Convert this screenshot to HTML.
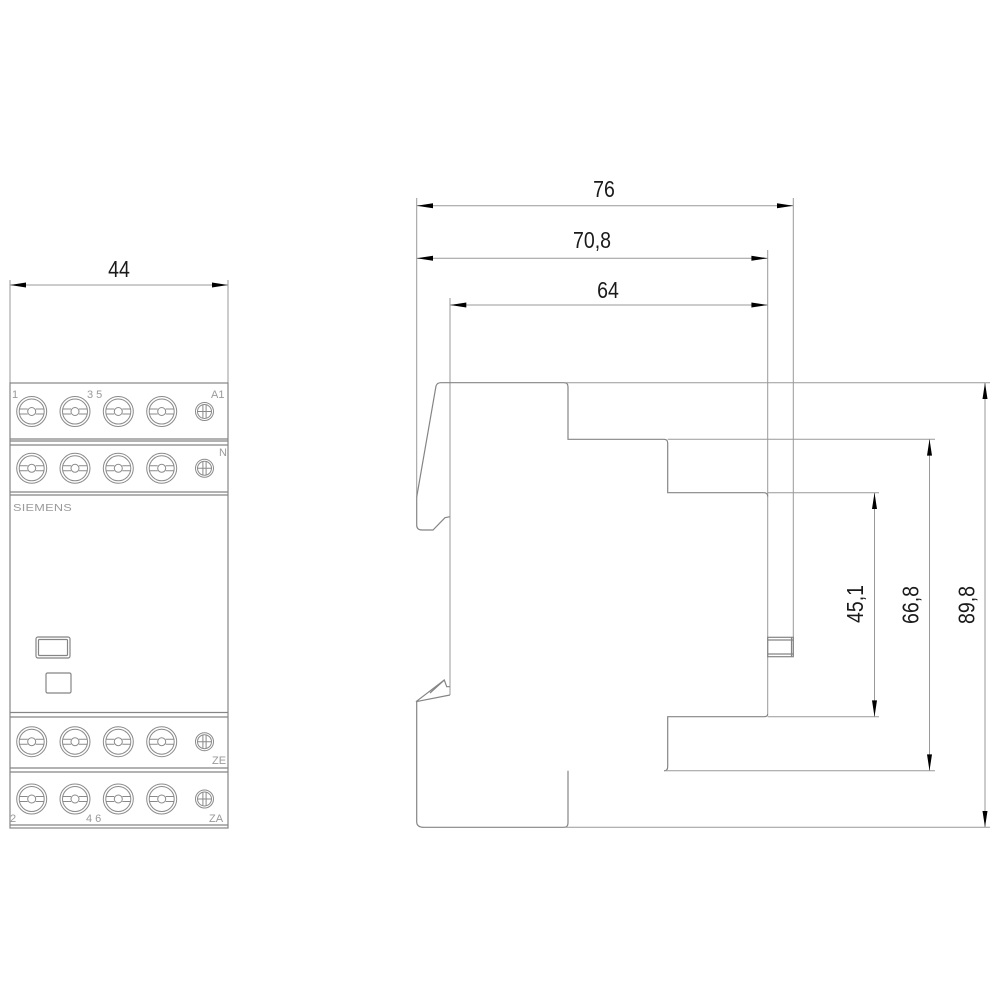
<!DOCTYPE html>
<html>
<head>
<meta charset="utf-8">
<style>
html,body{margin:0;padding:0;background:#fff;}
svg{display:block;}
.o{fill:none;stroke:#858585;stroke-width:1.2;}
.d{fill:none;stroke:#999;stroke-width:1;}
.a{fill:#000;stroke:none;}
.t{font-family:"Liberation Sans",sans-serif;font-size:23px;fill:#1a1a1a;}
.l{font-family:"Liberation Sans",sans-serif;font-size:11px;fill:#9a9a9a;}
</style>
</head>
<body>
<svg width="1000" height="1000" viewBox="0 0 1000 1000" xmlns="http://www.w3.org/2000/svg">
<defs>
  <g id="sb">
    <circle r="15" fill="none" stroke="#8a8a8a" stroke-width="1"/>
    <circle r="12.5" fill="none" stroke="#8a8a8a" stroke-width="1"/>
    <path d="M-12.3,-2.5H-4M4,-2.5H12.3M-12.3,2.5H-4M4,2.5H12.3" fill="none" stroke="#8a8a8a" stroke-width="1"/>
    <circle r="4" fill="none" stroke="#8a8a8a" stroke-width="1"/>
  </g>
  <g id="ss">
    <circle r="9" fill="none" stroke="#8a8a8a" stroke-width="1"/>
    <circle r="7" fill="none" stroke="#8a8a8a" stroke-width="1"/>
    <path d="M-1.6,-7V7M1.6,-7V7M-7,0H7" fill="none" stroke="#8a8a8a" stroke-width="1"/>
  </g>
</defs>

<!-- ============ FRONT VIEW ============ -->
<!-- dim 44 -->
<line class="d" x1="10" y1="280" x2="10" y2="383"/>
<line class="d" x1="228" y1="280" x2="228" y2="383"/>
<line class="d" x1="10" y1="285" x2="228" y2="285"/>
<polygon class="a" points="10,285 26,282.5 26,287.5"/>
<polygon class="a" points="228,285 212,282.5 212,287.5"/>
<text class="t" transform="translate(119,277) scale(0.85,1)" text-anchor="middle">44</text>

<!-- body -->
<rect class="o" x="10" y="383" width="218" height="445"/>
<line class="o" x1="10" y1="439" x2="228" y2="439"/>
<line class="o" x1="10" y1="441" x2="228" y2="441"/>
<line class="o" x1="10" y1="445" x2="228" y2="445"/>
<line class="o" x1="10" y1="492" x2="228" y2="492"/>
<line class="o" x1="10" y1="495" x2="228" y2="495"/>
<line class="o" x1="10" y1="712.5" x2="228" y2="712.5"/>
<line class="o" x1="10" y1="717" x2="228" y2="717"/>
<line class="o" x1="10" y1="768" x2="228" y2="768"/>
<line class="o" x1="10" y1="772" x2="228" y2="772"/>
<line class="o" x1="10" y1="825" x2="228" y2="825"/>

<!-- terminals -->
<use href="#sb" x="31.7" y="411.5"/><use href="#sb" x="75" y="411.5"/><use href="#sb" x="118.3" y="411.5"/><use href="#sb" x="161.7" y="411.5"/><use href="#ss" x="204.5" y="411.5"/>
<use href="#sb" x="31.7" y="468.3"/><use href="#sb" x="75" y="468.3"/><use href="#sb" x="118.3" y="468.3"/><use href="#sb" x="161.7" y="468.3"/><use href="#ss" x="204.5" y="468.3"/>
<use href="#sb" x="31.7" y="741.7"/><use href="#sb" x="75" y="741.7"/><use href="#sb" x="118.3" y="741.7"/><use href="#sb" x="161.7" y="741.7"/><use href="#ss" x="204.5" y="741.7"/>
<use href="#sb" x="31.7" y="799"/><use href="#sb" x="75" y="799"/><use href="#sb" x="118.3" y="799"/><use href="#sb" x="161.7" y="799"/><use href="#ss" x="204.5" y="799"/>

<!-- labels -->
<text class="l" x="12" y="398">1</text>
<text class="l" x="87" y="398">3 5</text>
<text class="l" x="211" y="398">A1</text>
<text class="l" x="219" y="456">N</text>
<text class="l" x="212" y="764">ZE</text>
<text class="l" x="10" y="822">2</text>
<text class="l" x="86" y="822">4 6</text>
<text class="l" x="209" y="822">ZA</text>
<text class="l" x="13" y="511" style="font-size:10px;letter-spacing:0.2px" textLength="59" lengthAdjust="spacingAndGlyphs">SIEMENS</text>

<!-- button & window -->
<rect class="o" x="36" y="637" width="34" height="21" rx="2" stroke-width="1"/>
<rect class="o" x="38.5" y="639.5" width="29" height="16" rx="1" stroke-width="1"/>
<rect class="o" x="46" y="673" width="25" height="20" rx="1.5" stroke-width="1"/>

<!-- ============ SIDE VIEW ============ -->
<!-- top dims -->
<line class="d" x1="416.7" y1="198" x2="416.7" y2="497"/>
<line class="d" x1="793.3" y1="198" x2="793.3" y2="656"/>
<line class="d" x1="767.7" y1="250" x2="767.7" y2="714"/>
<line class="d" x1="450" y1="298" x2="450" y2="695"/>

<line class="d" x1="416.7" y1="205.7" x2="793.3" y2="205.7"/>
<polygon class="a" points="416.7,205.7 433,203.2 433,208.2"/>
<polygon class="a" points="793.3,205.7 777,203.2 777,208.2"/>
<text class="t" transform="translate(604,197) scale(0.85,1)" text-anchor="middle">76</text>

<line class="d" x1="416.7" y1="258.3" x2="767.7" y2="258.3"/>
<polygon class="a" points="416.7,258.3 433,255.8 433,260.8"/>
<polygon class="a" points="767.7,258.3 751.4,255.8 751.4,260.8"/>
<text class="t" transform="translate(592,248) scale(0.85,1)" text-anchor="middle">70,8</text>

<line class="d" x1="450" y1="305" x2="767.7" y2="305"/>
<polygon class="a" points="450,305 466.3,302.5 466.3,307.5"/>
<polygon class="a" points="767.7,305 751.4,302.5 751.4,307.5"/>
<text class="t" transform="translate(608,298) scale(0.85,1)" text-anchor="middle">64</text>

<!-- body outline -->
<path class="o" d="M416.7,497 L436,386 Q437,382.7 441,382.7 L564,382.7 Q568,382.7 568,386.7 L568,439.3 L664,439.3 Q667.7,439.3 667.7,443 L667.7,492.7 L764,492.7 Q767.7,492.7 767.7,496.5"/>
<path class="o" d="M416.7,497 L416.7,525 Q416.7,530 422,530 L433,530 L445,517.7 L450,516.7"/>
<path class="o" d="M450,686.7 L446.7,686.7 L444.3,680 L416,701.7 L450,695"/>
<path class="o" d="M430,693 L444.3,680" stroke-width="0.8"/>
<path class="o" d="M416.7,701.7 L416.7,821.7 Q416.7,827.3 424,827.3 L564,827.3 Q568,827.3 568,823 L568,770.7"/>
<path class="o" d="M767.7,714 Q767.7,716.7 764,716.7 L667.7,716.7 L667.7,766.7 Q667.7,770.7 664,770.7"/>

<!-- connector pin -->
<rect class="o" x="767.7" y="637.3" width="25.6" height="19.4" stroke-width="1"/>
<line class="o" x1="767.7" y1="640" x2="793.3" y2="640" stroke-width="1"/>
<line class="o" x1="767.7" y1="654" x2="793.3" y2="654" stroke-width="1"/>
<line class="o" x1="791.5" y1="637.3" x2="791.5" y2="656.7" stroke-width="1"/>

<!-- horizontal extension lines -->
<line class="d" x1="564" y1="382.7" x2="990" y2="382.7"/>
<line class="d" x1="667.7" y1="439.3" x2="935" y2="439.3"/>
<line class="d" x1="767.7" y1="492.7" x2="879" y2="492.7"/>
<line class="d" x1="767.7" y1="716.7" x2="879" y2="716.7"/>
<line class="d" x1="664" y1="770.7" x2="935" y2="770.7"/>
<line class="d" x1="564" y1="827.3" x2="990" y2="827.3"/>

<!-- vertical dims -->
<line class="d" x1="874.5" y1="492.7" x2="874.5" y2="716.7"/>
<polygon class="a" points="874.5,492.7 872,509 877,509"/>
<polygon class="a" points="874.5,716.7 872,700.4 877,700.4"/>
<text class="t" transform="translate(863,604) rotate(-90) scale(0.85,1)" text-anchor="middle">45,1</text>

<line class="d" x1="929.5" y1="439.3" x2="929.5" y2="770.7"/>
<polygon class="a" points="929.5,439.3 927,455.6 932,455.6"/>
<polygon class="a" points="929.5,770.7 927,754.4 932,754.4"/>
<text class="t" transform="translate(918.5,605) rotate(-90) scale(0.85,1)" text-anchor="middle">66,8</text>

<line class="d" x1="985" y1="382.7" x2="985" y2="827.3"/>
<polygon class="a" points="985,382.7 982.5,399 987.5,399"/>
<polygon class="a" points="985,827.3 982.5,811 987.5,811"/>
<text class="t" transform="translate(974.5,605) rotate(-90) scale(0.85,1)" text-anchor="middle">89,8</text>
</svg>
</body>
</html>
